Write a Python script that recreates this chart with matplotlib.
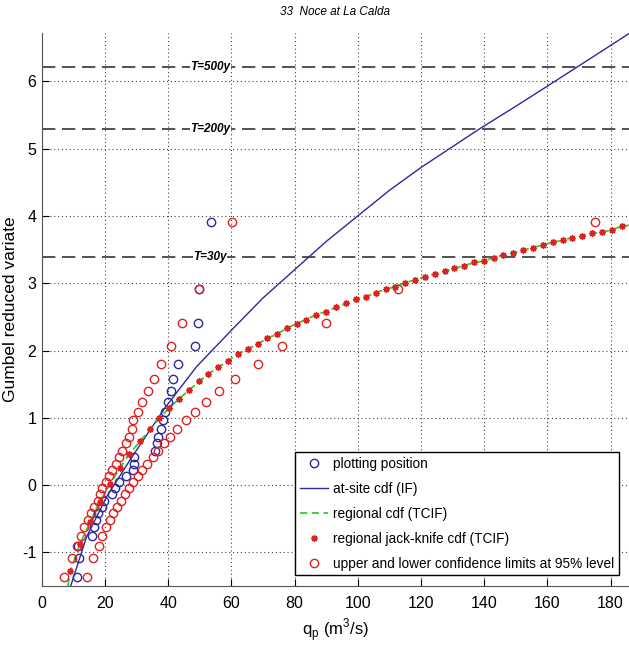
#!/usr/bin/env python3
import matplotlib
matplotlib.use("Agg")
import matplotlib.pyplot as plt

plt.rcParams['font.family'] = ['Liberation Sans', 'DejaVu Sans']
plt.rcParams['axes.unicode_minus'] = False

# plotting position (Gumbel reduced variate vs observed peak flow)
pp_y = [-1.37, -1.08, -0.90, -0.75, -0.63, -0.52, -0.42, -0.32, -0.23, -0.14,
        -0.05, 0.04, 0.13, 0.23, 0.32, 0.41, 0.51, 0.62, 0.72, 0.84,
        0.96, 1.09, 1.24, 1.40, 1.58, 1.80, 2.06, 2.41, 2.91, 3.91]
pp_q = [11.3, 11.9, 11.6, 16.0, 16.5, 17.2, 17.9, 19.0, 19.8, 22.3,
        23.2, 24.5, 26.6, 28.8, 29.1, 29.3, 35.8, 36.6, 36.9, 37.9,
        38.3, 39.1, 40.0, 40.8, 41.5, 43.2, 48.6, 49.6, 49.9, 53.5]

# confidence limits (same reduced variates)
cl_low_q = [7.2, 9.5, 11.3, 12.4, 13.5, 14.5, 15.5, 16.5, 17.7, 18.4,
            19.2, 20.2, 21.2, 22.3, 23.4, 24.5, 25.5, 26.7, 27.6, 28.7,
            29.0, 30.4, 31.6, 33.7, 35.5, 37.8, 40.8, 44.3, 49.9, 60.1]
cl_up_q = [14.2, 16.3, 18.0, 19.2, 20.3, 21.6, 22.7, 23.9, 25.2, 26.5,
           27.6, 29.0, 30.4, 31.6, 33.2, 35.3, 36.9, 38.8, 40.6, 42.7,
           45.6, 48.5, 52.0, 56.1, 61.3, 68.4, 75.9, 90.0, 112.7, 175.2]

# at-site cdf (IF)
site_q = [9.1, 14.2, 20.6, 27.9, 34.3, 39.2, 49.0, 60.0, 70.0, 80.0,
          90.0, 100.0, 110.0, 120.0, 130.0, 138.7, 150.0, 160.0, 169.3, 185.8]
site_y = [-1.51, -0.77, -0.17, 0.37, 0.82, 1.16, 1.76, 2.30, 2.78, 3.20,
          3.62, 4.00, 4.38, 4.72, 5.03, 5.30, 5.63, 5.93, 6.21, 6.71]

# regional jack-knife cdf (TCIF)
jk_q = [9.0, 12.1, 15.3, 18.3, 21.6, 24.8, 27.7, 31.1, 34.3, 37.2,
        40.4, 43.4, 46.6, 49.8, 52.7, 55.9, 59.0, 62.2, 65.2, 68.4,
        71.4, 74.6, 77.5, 80.7, 83.6, 86.8, 90.0, 93.1, 96.3, 99.4,
        102.6, 105.7, 108.9, 111.9, 115.1, 118.2, 121.3, 124.5, 127.5, 130.6,
        133.7, 136.8, 140.0, 143.0, 146.1, 149.2, 152.3, 155.4, 158.6, 161.7,
        164.9, 167.9, 171.1, 174.1, 177.3, 180.4, 183.5]
jk_y = [-1.28, -0.88, -0.55, -0.25, 0.01, 0.26, 0.46, 0.65, 0.83, 0.99,
        1.15, 1.28, 1.41, 1.54, 1.65, 1.75, 1.85, 1.95, 2.02, 2.10,
        2.18, 2.25, 2.33, 2.40, 2.46, 2.53, 2.58, 2.64, 2.70, 2.76,
        2.80, 2.86, 2.91, 2.95, 3.01, 3.05, 3.10, 3.14, 3.18, 3.22,
        3.26, 3.31, 3.33, 3.38, 3.42, 3.45, 3.49, 3.53, 3.57, 3.61,
        3.64, 3.68, 3.70, 3.74, 3.76, 3.79, 3.85]

# regional cdf (TCIF)
reg_q = [8.3] + jk_q + [185.8]
reg_y = [-1.5] + jk_y + [3.86]

# return period levels
T_labels = ['T=30y', 'T=200y', 'T=500y']
T_levels = [3.384, 5.296, 6.214]

BLUE = '#2a2a9c'
RED = '#dd2222'

fig = plt.figure(figsize=(6.29, 6.46), dpi=100)
ax = fig.add_axes([0.0663, 0.0929, 0.9337, 0.856])

for lab, lev in zip(T_labels, T_levels):
    ax.plot([0, 186], [lev, lev], color='#333333', lw=1.2, dashes=(8, 4), zorder=1)
    ax.text(53.3, lev, lab, fontsize=8.5, style='italic', fontweight='bold',
            ha='center', va='center', zorder=2,
            bbox=dict(facecolor='white', edgecolor='none', pad=0.3))

ax.plot(pp_q, pp_y, 'o', mfc='none', mec=BLUE, ms=6, mew=1.0,
        label='plotting position', zorder=4)
ax.plot(site_q, site_y, '-', color=BLUE, lw=1.0, label='at-site cdf (IF)', zorder=3)
ax.plot(reg_q, reg_y, '--', color='#33cc33', lw=1.3, dashes=(4, 2.5),
        label='regional cdf (TCIF)', zorder=3)
ax.plot(jk_q, jk_y, ls='none', marker=(8, 2, 0), color=RED, ms=4.8, mew=1.0,
        label='regional jack-knife cdf (TCIF)', zorder=4)
ax.plot(cl_low_q + cl_up_q, pp_y + pp_y, 'o', mfc='none', mec=RED, ms=6, mew=1.0,
        label='upper and lower confidence limits at 95% level', zorder=4)

ax.set_xlim(0, 185.85)
ax.set_ylim(-1.5, 6.72)
ax.set_xticks(range(0, 181, 20))
ax.set_yticks(range(-1, 7))
ax.grid(True, color='#444444', ls=(0, (1, 2.5)), lw=0.8)
ax.tick_params(direction='in', length=5, labelsize=11.5)
ax.tick_params(axis='y', pad=4)
ax.tick_params(axis='x', pad=7)
ax.spines['top'].set_visible(False)
ax.spines['right'].set_visible(False)
ax.spines['left'].set_color('#555555')
ax.spines['bottom'].set_color('#555555')

ax.set_title('33  Noce at La Calda', fontsize=8.5, style='italic', pad=13)
ax.set_ylabel('Gumbel reduced variate', fontsize=12.5, labelpad=3)
ax.set_xlabel(r'q$_\mathregular{p}$ (m$^\mathregular{3}$/s)', fontsize=12, labelpad=4)

leg = ax.legend(loc='lower right', bbox_to_anchor=(0.983, 0.019), borderaxespad=0,
                fontsize=9.8, fancybox=False, framealpha=1, edgecolor='black',
                handlelength=2.1, handletextpad=0.35, labelspacing=0.8,
                borderpad=0.35)
leg.get_frame().set_linewidth(1.0)

fig.savefig('out.png', dpi=100)
